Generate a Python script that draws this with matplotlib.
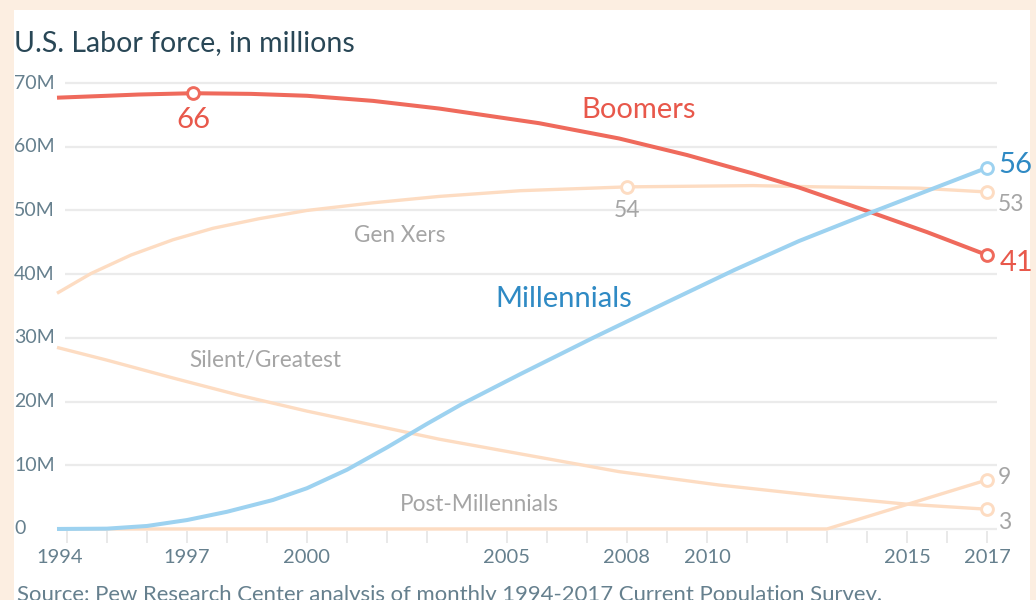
import matplotlib
matplotlib.use("Agg")
import matplotlib.pyplot as plt
import matplotlib.transforms as mtransforms
from matplotlib.patches import Rectangle

plt.rcParams['font.family'] = ['Lato', 'DejaVu Sans']

# ---- data (millions of workers) ----
boomers_years = [1993.75, 1995.0, 1995.8, 1997.15, 1998.6, 2000.0, 2001.65, 2003.3, 2005.8,
                 2007.8, 2009.5, 2011.15, 2012.3, 2014.15, 2015.5, 2017.0]
boomers_vals = [67.7, 68.0, 68.2, 68.4, 68.3, 68.0, 67.2, 66.0, 63.7,
                61.3, 58.7, 55.8, 53.6, 49.6, 46.6, 43.0]

genx_years = [1993.75, 1994.6, 1995.6, 1996.65, 1997.65, 1998.8, 2000.0, 2001.65, 2003.3,
              2005.33, 2008.0, 2011.15, 2012.8, 2015.3, 2017.0]
genx_vals = [37.0, 40.1, 43.0, 45.4, 47.2, 48.7, 50.0, 51.2, 52.2,
             53.1, 53.7, 53.9, 53.7, 53.5, 52.9]

mill_years = [1993.75, 1995.0, 1996.0, 1997.0, 1998.0, 1999.15, 2000.0, 2001.0, 2002.0,
              2003.0, 2003.87, 2005.33, 2007.15, 2009.1, 2010.7, 2012.3, 2014.15, 2017.0]
mill_vals = [0.0, 0.05, 0.47, 1.4, 2.7, 4.55, 6.4, 9.3, 12.8,
             16.5, 19.6, 24.3, 30.0, 35.9, 40.7, 45.2, 49.8, 56.7]

silent_years = [1993.75, 1995.0, 1996.65, 1998.3, 2000.0, 2001.65, 2003.3, 2005.5, 2007.8,
                2010.3, 2012.8, 2014.98, 2017.0]
silent_vals = [28.5, 26.5, 23.7, 21.0, 18.5, 16.3, 14.1, 11.6, 9.0,
               6.9, 5.2, 3.9, 3.1]

post_years = [1993.75, 2013.0, 2017.0]
post_vals = [0.0, 0.0, 7.7]

y_ticks = [0, 10, 20, 30, 40, 50, 60, 70]
y_labels = ['0', '10M', '20M', '30M', '40M', '50M', '60M', '70M']
x_ticks = list(range(1994, 2018))
x_labeled = [1994, 1997, 2000, 2005, 2008, 2010, 2015, 2017]

# highlighted points: (years, values, labels)
boomers_marks = ([1997.15, 2017.0], [68.4, 43.0], ['66', '41'])
genx_marks = ([2008.0, 2017.0], [53.7, 52.9], ['54', '53'])
mill_marks = ([2017.0], [56.7], ['56'])
silent_marks = ([2017.0], [3.1], ['3'])
post_marks = ([2017.0], [7.7], ['9'])

# ---- colours ----
RED = '#EF6A5C'
RED_TXT = '#E8584B'
BLUE = '#9DD2F0'
BLUE_TXT = '#2F8AC4'
PEACH = '#FDDCC2'
GRAY_TXT = '#A5A5A5'
AXIS_TXT = '#66808E'
TITLE = '#294756'
GRID = '#EBEBEB'

W, H = 1036, 600
fig = plt.figure(figsize=(W / 100, H / 100), dpi=100, facecolor='#FCEEE1')
fig.add_artist(Rectangle((14 / W, 0), (1030 - 14) / W, (H - 10) / H,
                         transform=fig.transFigure, facecolor='white',
                         edgecolor='none', zorder=0))

ax = fig.add_axes([57 / W, 1 - 531.2 / H, 940 / W, 460.9 / H])
ax.set_facecolor('none')
ax.set_xlim(1993.75, 2017.25)
ax.set_ylim(-0.35, 72)
for s in ax.spines.values():
    s.set_visible(False)

ax.hlines(y_ticks, 1993.95, 2017.25, color=GRID, lw=1.6, zorder=1)

ax.set_yticks([])
ax.set_xticks(x_ticks)
ax.set_xticklabels([str(y) if y in x_labeled else '' for y in x_ticks])
ax.tick_params(axis='x', length=8.5, width=1.1, color='#E3E3E3', pad=4,
               labelsize=14.5, labelcolor=AXIS_TXT)
# the first year label sits a little left of its tick in the original
first = ax.get_xticklabels()[0]
first.set_transform(first.get_transform() +
                    mtransforms.ScaledTranslation(-7 / 100, 0, fig.dpi_scale_trans))

trans = mtransforms.blended_transform_factory(fig.transFigure, ax.transData)
for v, lab in zip(y_ticks, y_labels):
    ax.text(14 / W, v, lab, transform=trans, ha='left', va='center',
            fontsize=14, color=AXIS_TXT)

line_kw = dict(clip_on=False, solid_capstyle='butt', solid_joinstyle='round')
ax.plot(post_years, post_vals, color=PEACH, lw=2.4, zorder=2, **line_kw)
ax.plot(silent_years, silent_vals, color=PEACH, lw=2.4, zorder=2, **line_kw)
ax.plot(genx_years, genx_vals, color=PEACH, lw=2.4, zorder=2, **line_kw)
ax.plot(boomers_years, boomers_vals, color=RED, lw=2.9, zorder=3, **line_kw)
ax.plot(mill_years, mill_vals, color=BLUE, lw=2.9, zorder=4, **line_kw)

mark_kw = dict(marker='o', ms=8.5, mfc='white', mew=2.1, ls='none', clip_on=False, zorder=5)
ax.plot(boomers_marks[0], boomers_marks[1], mec=RED, **mark_kw)
ax.plot(genx_marks[0], genx_marks[1], mec=PEACH, **mark_kw)
ax.plot(mill_marks[0], mill_marks[1], mec=BLUE, **mark_kw)
ax.plot(silent_marks[0], silent_marks[1], mec=PEACH, **mark_kw)
ax.plot(post_marks[0], post_marks[1], mec=PEACH, **mark_kw)


def label(x, y, text, dx, dy, color, size, ha):
    # offsets given in pixels
    ax.annotate(text, (x, y), xytext=(dx * 0.72, dy * 0.72), textcoords='offset points',
                ha=ha, va='center', color=color, fontsize=size, annotation_clip=False)


bx, by, bl = boomers_marks
label(bx[0], by[0], bl[0], 0, -27, RED_TXT, 21, 'center')
label(bx[1], by[1], bl[1], 13, -8, RED_TXT, 21, 'left')
gx, gy, gl = genx_marks
label(gx[0], gy[0], gl[0], 0, -24, GRAY_TXT, 16.5, 'center')
label(gx[1], gy[1], gl[1], 11, -13, GRAY_TXT, 16.5, 'left')
label(mill_marks[0][0], mill_marks[1][0], mill_marks[2][0], 11, 3, BLUE_TXT, 21, 'left')
label(post_marks[0][0], post_marks[1][0], post_marks[2][0], 11, 2, GRAY_TXT, 16.5, 'left')
label(silent_marks[0][0], silent_marks[1][0], silent_marks[2][0], 11, -13, GRAY_TXT, 16.5, 'left')

# series names
ax.text(2008.28, 65.8, 'Boomers', color=RED_TXT, fontsize=21, ha='center', va='center')
ax.text(2006.43, 36.1, 'Millennials', color=BLUE_TXT, fontsize=21, ha='center', va='center')
ax.text(2002.33, 46.0, 'Gen Xers', color=GRAY_TXT, fontsize=16.3, ha='center', va='center')
ax.text(1998.95, 26.5, 'Silent/Greatest', color=GRAY_TXT, fontsize=16.3, ha='center', va='center')
ax.text(2004.3, 3.77, 'Post-Millennials', color=GRAY_TXT, fontsize=16.3, ha='center', va='center')

fig.text(14 / W, 1 - 43 / H, 'U.S. Labor force, in millions', color=TITLE,
         fontsize=20.5, ha='left', va='center')
fig.text(17 / W, 1 - 595 / H,
         'Source: Pew Research Center analysis of monthly 1994-2017 Current Population Survey.',
         color=AXIS_TXT, fontsize=15.9, ha='left', va='center')

fig.savefig('out.png', dpi=100, facecolor=fig.get_facecolor())
